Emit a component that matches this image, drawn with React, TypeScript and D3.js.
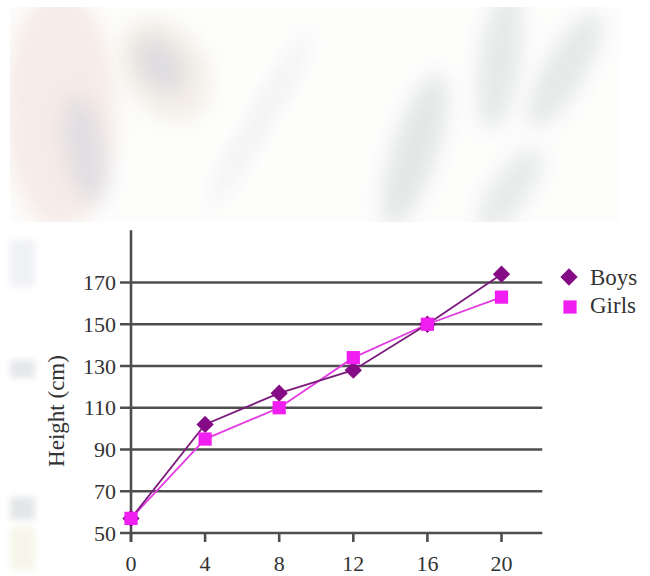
import React from "react";
import * as d3 from "d3";

const ages = [0, 4, 8, 12, 16, 20];
const boys = [57, 102, 117, 128, 150, 174];
const girls = [57, 95, 110, 134, 150, 163];
const yTicks = [50, 70, 90, 110, 130, 150, 170];
const xTicks = [0, 4, 8, 12, 16, 20];
const seriesNames = ["Boys", "Girls"];

const W = 650;
const H = 576;

export default function App() {
  const x = d3.scaleLinear().domain([0, 20]).range([131, 501.5]);
  const y = d3.scaleLinear().domain([50, 170]).range([533, 282.5]);
  const xEnd = x(22.2);
  const yTop = y(195);
  const line = d3
    .line<number>()
    .x((_, i) => x(ages[i]))
    .y((d) => y(d));
  const diamond = d3.symbol().type(d3.symbolDiamond2).size(190)();
  const square = d3.symbol().type(d3.symbolSquare).size(175)();
  const font = "'Liberation Serif', 'Times New Roman', serif";
  const grid = "#4e4e4e";

  return (
    <svg
      width={W}
      height={H}
      style={{ position: "absolute", left: 0, top: 0, background: "#fff" }}
    >
      <defs>
        <filter id="blur" x="-50%" y="-50%" width="200%" height="200%">
          <feGaussianBlur stdDeviation="10" />
        </filter>
        <filter id="blur2" x="-50%" y="-50%" width="200%" height="200%">
          <feGaussianBlur stdDeviation="3" />
        </filter>
        <clipPath id="bgclip">
          <rect x={10} y={7} width={610} height={215} />
        </clipPath>
      </defs>
      {/* faded background picture */}
      <g clipPath="url(#bgclip)" opacity={0.8}>
        <rect x={10} y={7} width={610} height={215} fill="#fdfdfc" />
        <ellipse cx={60} cy={110} rx={55} ry={120} fill="#ecd3c8" opacity={0.5} filter="url(#blur)" />
        <ellipse cx={85} cy={150} rx={20} ry={55} fill="#c9cad8" opacity={0.6} filter="url(#blur)" transform="rotate(-10 85 150)" />
        <ellipse cx={165} cy={70} rx={40} ry={55} fill="#e9dfcf" opacity={0.6} filter="url(#blur)" transform="rotate(-35 165 70)" />
        <ellipse cx={160} cy={65} rx={22} ry={32} fill="#c8c8d6" opacity={0.6} filter="url(#blur)" transform="rotate(-35 160 65)" />
        <ellipse cx={260} cy={120} rx={10} ry={100} fill="#e3e3e6" opacity={0.6} filter="url(#blur)" transform="rotate(30 260 120)" />
        <ellipse cx={415} cy={150} rx={22} ry={80} fill="#cfd6d5" opacity={0.7} filter="url(#blur)" transform="rotate(18 415 150)" />
        <ellipse cx={500} cy={60} rx={20} ry={70} fill="#cfd7d6" opacity={0.65} filter="url(#blur)" transform="rotate(8 500 60)" />
        <ellipse cx={565} cy={70} rx={20} ry={65} fill="#cfd6d5" opacity={0.65} filter="url(#blur)" transform="rotate(30 565 70)" />
        <ellipse cx={510} cy={190} rx={18} ry={50} fill="#d2d9d8" opacity={0.65} filter="url(#blur)" transform="rotate(35 510 190)" />
      </g>
      {/* left edge strips */}
      <g filter="url(#blur2)" opacity={0.6}>
        <rect x={10} y={240} width={25} height={47} fill="#e6e8f0" />
        <rect x={10} y={360} width={25} height={18} fill="#d4d7dc" />
        <rect x={10} y={497} width={25} height={23} fill="#d2d5d8" />
        <rect x={10} y={527} width={25} height={43} fill="#f0f0dc" />
      </g>

      {/* grid lines */}
      {yTicks.map((t) => (
        <line key={t} x1={120} x2={xEnd} y1={y(t)} y2={y(t)} stroke={grid} strokeWidth={2.6} />
      ))}
      {/* y axis */}
      <line x1={x(0)} x2={x(0)} y1={yTop} y2={y(50) + 9} stroke={grid} strokeWidth={2.6} />
      {/* x ticks */}
      {xTicks.map((t) => (
        <line key={t} x1={x(t)} x2={x(t)} y1={y(50)} y2={y(50) + 9} stroke={grid} strokeWidth={2.6} />
      ))}
      {/* tick labels */}
      {yTicks.map((t) => (
        <text
          key={t}
          x={116}
          y={y(t)}
          dy="0.35em"
          textAnchor="end"
          fontFamily={font}
          fontSize={22}
          fill="#333"
        >
          {t}
        </text>
      ))}
      {xTicks.map((t) => (
        <text
          key={t}
          x={x(t)}
          y={571}
          textAnchor="middle"
          fontFamily={font}
          fontSize={22}
          fill="#333"
        >
          {t}
        </text>
      ))}
      <text
        transform="translate(64,411) rotate(-90)"
        textAnchor="middle"
        fontFamily={font}
        fontSize={23}
        fill="#333"
      >
        Height (cm)
      </text>

      {/* series */}
      <path d={line(girls) || ""} fill="none" stroke="#e23ce2" strokeWidth={1.8} />
      <path d={line(boys) || ""} fill="none" stroke="#7a1a7a" strokeWidth={1.8} />
      {boys.map((v, i) => (
        <path key={"b" + i} d={diamond || ""} transform={`translate(${x(ages[i])},${y(v)})`} fill="#850a85" />
      ))}
      {girls.map((v, i) => (
        <path key={"g" + i} d={square || ""} transform={`translate(${x(ages[i])},${y(v)})`} fill="#f01ef0" />
      ))}

      {/* legend */}
      <path d={diamond || ""} transform="translate(569,277)" fill="#850a85" />
      <text x={590} y={285} fontFamily={font} fontSize={23} fill="#333">
        {seriesNames[0]}
      </text>
      <path d={square || ""} transform="translate(570,307)" fill="#f01ef0" />
      <text x={590} y={313} fontFamily={font} fontSize={23} fill="#333">
        {seriesNames[1]}
      </text>
    </svg>
  );
}
